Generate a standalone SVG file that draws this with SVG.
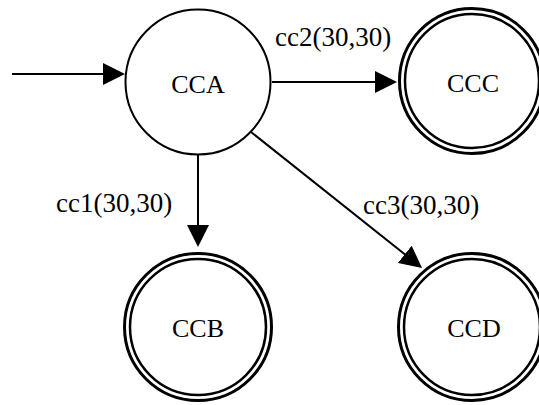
<svg xmlns="http://www.w3.org/2000/svg" width="539" height="405" viewBox="0 0 539 405">
  <style>
    .state { fill: #ffffff; stroke: #000000; stroke-width: 2; }
    .outer { fill: #ffffff; stroke: #000000; stroke-width: 3; }
    .inner { fill: none; stroke: #000000; stroke-width: 2.5; }
    .edge { stroke: #000000; stroke-width: 2; fill: none; marker-end: url(#arrow); }
    .lbl { font-family: 'Liberation Serif', 'Times New Roman', serif; font-size: 27px; fill: #000000; }
    .name { font-family: 'Liberation Serif', 'Times New Roman', serif; font-size: 26px; fill: #000000; text-anchor: middle; }
  </style>
  <defs>
    <marker id="arrow" viewBox="0 0 22 22" refX="18" refY="11" markerWidth="22" markerHeight="22" markerUnits="userSpaceOnUse" orient="auto">
      <path d="M0,0 L22,11 L0,22 Z" fill="#000000"/>
    </marker>
  </defs>

  <!-- transitions -->
  <g id="connectors">
    <line class="edge" x1="12" y1="74" x2="121" y2="74"/>
    <line class="edge" x1="272" y1="82" x2="393" y2="82"/>
    <line class="edge" x1="198" y1="155" x2="198" y2="243"/>
    <line class="edge" x1="251" y1="132" x2="418.9" y2="265.5"/>
    <text class="lbl" x="275" y="46">cc2(30,30)</text>
    <text class="lbl" x="56" y="212">cc1(30,30)</text>
    <text class="lbl" x="363" y="214">cc3(30,30)</text>
  </g>

  <!-- start state -->
  <g id="CCA">
    <circle class="state" cx="198" cy="82" r="72.5"/>
    <text class="name" x="198" y="93">CCA</text>
  </g>

  <!-- final states -->
  <g id="CCC">
    <circle class="outer" cx="472" cy="81" r="72.5"/>
    <circle class="inner" cx="472" cy="81" r="67"/>
    <text class="name" x="473" y="92">CCC</text>
  </g>

  <g id="CCB">
    <circle class="outer" cx="198" cy="327" r="73.5"/>
    <circle class="inner" cx="198" cy="327" r="68"/>
    <text class="name" x="198" y="337">CCB</text>
  </g>

  <g id="CCD">
    <circle class="outer" cx="472" cy="327" r="73.5"/>
    <circle class="inner" cx="472" cy="327" r="68"/>
    <text class="name" x="474" y="337">CCD</text>
  </g>
</svg>
